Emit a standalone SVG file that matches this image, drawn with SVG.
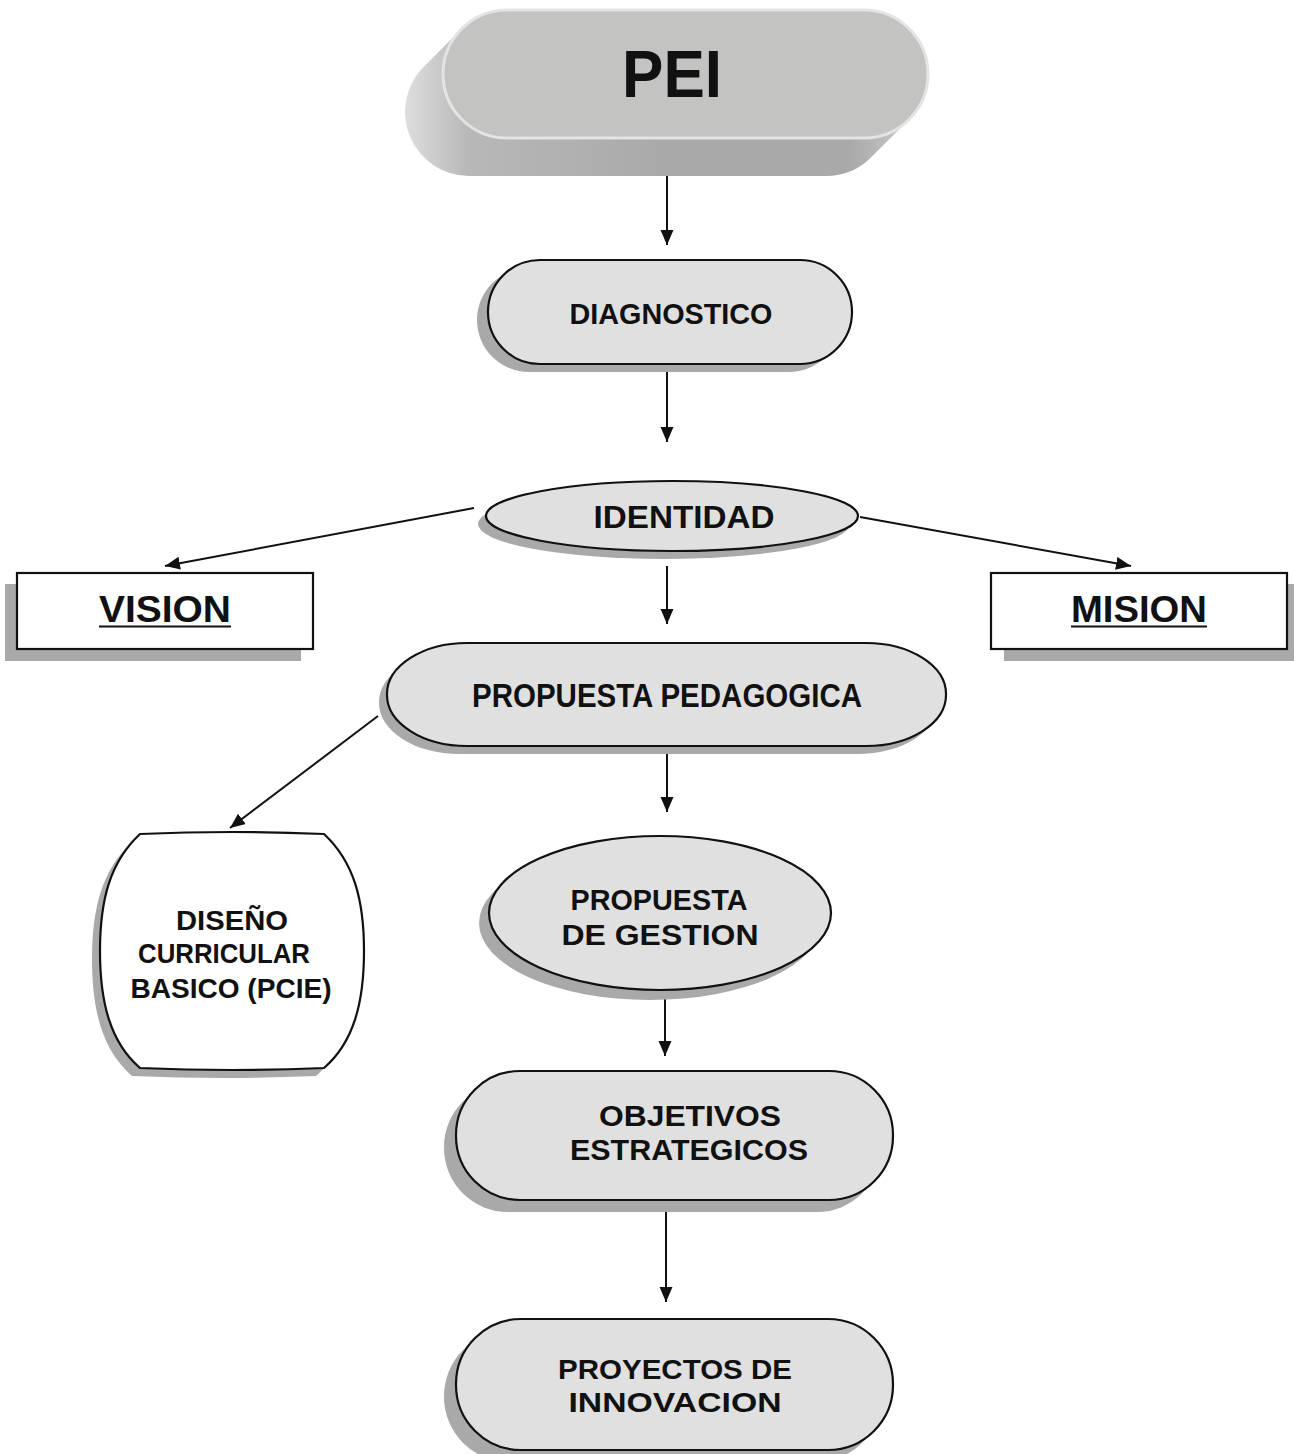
<svg xmlns="http://www.w3.org/2000/svg" width="1294" height="1454" viewBox="0 0 1294 1454">
<style>
.lbl{font-family:"Liberation Sans",Arial,sans-serif;font-weight:bold;fill:#111;text-anchor:middle}
.node{fill:#e0e0e0;stroke:#111;stroke-width:2.2}
.box{fill:#fff;stroke:#111;stroke-width:2.2}
.shd{fill:#a9a9a9}
.con{stroke:#111;stroke-width:2;fill:none;marker-end:url(#ah)}
</style>
<defs>
<marker id="ah" markerUnits="userSpaceOnUse" markerWidth="16" markerHeight="14" refX="15" refY="6.5" orient="auto">
<path d="M0,0 L15,6.5 L0,13 z" fill="#111"/>
</marker>
<linearGradient id="ext" x1="0" y1="0" x2="1" y2="0">
<stop offset="0" stop-color="#dedede"/>
<stop offset="0.12" stop-color="#b8b8b8"/>
<stop offset="0.5" stop-color="#a9a9a9"/>
<stop offset="0.85" stop-color="#a9a9a9"/>
<stop offset="1" stop-color="#d4d4d4"/>
</linearGradient>
</defs>
<rect width="1294" height="1454" fill="#fff"/>

<g id="connectors">
<line class="con" x1="667" y1="176" x2="667" y2="245"/>
<line class="con" x1="667" y1="364" x2="667" y2="442"/>
<line class="con" x1="474" y1="508" x2="165" y2="566"/>
<line class="con" x1="860" y1="517" x2="1131" y2="566"/>
<line class="con" x1="667" y1="566" x2="667" y2="624"/>
<line class="con" x1="378" y1="716" x2="230" y2="828"/>
<line class="con" x1="667" y1="746" x2="667" y2="812"/>
<line class="con" x1="665" y1="990" x2="665" y2="1056"/>
<line class="con" x1="666" y1="1212" x2="666" y2="1302"/>
</g>

<g id="pei">
<path d="M 507 10 L 864 10 A 64 64 0 0 1 909.25 119.25 L 871.25 157.25 A 64 64 0 0 1 826 176 L 469 176 A 64 64 0 0 1 423.75 66.75 L 461.75 28.75 A 64 64 0 0 1 507 10 Z" fill="url(#ext)"/>
<rect x="443" y="10" width="485" height="128" rx="64" fill="#c3c3c2" stroke="#e4e4e4" stroke-width="3"/>
<text class="lbl" x="672" y="97" font-size="66" textLength="100" lengthAdjust="spacingAndGlyphs">PEI</text>
</g>

<g id="diagnostico">
<rect class="shd" x="477" y="268" width="364" height="104" rx="52"/>
<rect class="node" x="488" y="260" width="364" height="104" rx="52"/>
<text class="lbl" x="671" y="324" font-size="30" textLength="203" lengthAdjust="spacingAndGlyphs">DIAGNOSTICO</text>
</g>

<g id="identidad">
<ellipse class="shd" cx="664" cy="524" rx="186" ry="35"/>
<ellipse class="node" cx="672" cy="516" rx="186" ry="35"/>
<text class="lbl" x="684" y="528" font-size="31" textLength="181" lengthAdjust="spacingAndGlyphs">IDENTIDAD</text>
</g>

<g id="vision">
<rect class="shd" x="5" y="584" width="296" height="77"/>
<rect class="box" x="17" y="573" width="296" height="76"/>
<text class="lbl" x="165" y="622" font-size="36" textLength="132" lengthAdjust="spacingAndGlyphs">VISION</text>
<line x1="99" y1="626.5" x2="231" y2="626.5" stroke="#111" stroke-width="2"/>
</g>

<g id="mision">
<rect class="shd" x="1004" y="584" width="290" height="77"/>
<rect class="box" x="991" y="573" width="296" height="76"/>
<text class="lbl" x="1139" y="622" font-size="36" textLength="136" lengthAdjust="spacingAndGlyphs">MISION</text>
<line x1="1071" y1="626.5" x2="1207" y2="626.5" stroke="#111" stroke-width="2"/>
</g>

<g id="propuesta-pedagogica">
<rect class="shd" x="379" y="651" width="559" height="103" rx="80" ry="51"/>
<rect class="node" x="387" y="643" width="559" height="103" rx="80" ry="51"/>
<text class="lbl" x="667" y="707" font-size="33" textLength="390" lengthAdjust="spacingAndGlyphs">PROPUESTA PEDAGOGICA</text>
</g>

<g id="diseno">
<path class="shd" transform="translate(-8,8)" d="M 140 834 Q 232 830 324 834 C 354 862 364 900 364 951 C 364 1002 354 1042 324 1068 Q 232 1072 140 1068 C 110 1042 100 1002 100 951 C 100 900 110 862 140 834 Z"/>
<path class="box" d="M 140 834 Q 232 830 324 834 C 354 862 364 900 364 951 C 364 1002 354 1042 324 1068 Q 232 1072 140 1068 C 110 1042 100 1002 100 951 C 100 900 110 862 140 834 Z"/>
<text class="lbl" x="232" y="930" font-size="28" textLength="112" lengthAdjust="spacingAndGlyphs">DISEÑO</text>
<text class="lbl" x="224" y="963" font-size="28" textLength="172" lengthAdjust="spacingAndGlyphs">CURRICULAR</text>
<text class="lbl" x="231" y="998" font-size="28" textLength="201" lengthAdjust="spacingAndGlyphs">BASICO (PCIE)</text>
</g>

<g id="propuesta-gestion">
<ellipse class="shd" cx="650" cy="923" rx="171" ry="77"/>
<ellipse class="node" cx="660" cy="913" rx="171" ry="77"/>
<text class="lbl" x="659" y="910" font-size="29" textLength="177" lengthAdjust="spacingAndGlyphs">PROPUESTA</text>
<text class="lbl" x="660" y="945" font-size="29" textLength="197" lengthAdjust="spacingAndGlyphs">DE GESTION</text>
</g>

<g id="objetivos">
<rect class="shd" x="444" y="1083" width="437" height="129" rx="64"/>
<rect class="node" x="456" y="1071" width="437" height="129" rx="64"/>
<text class="lbl" x="690" y="1126" font-size="29" textLength="182" lengthAdjust="spacingAndGlyphs">OBJETIVOS</text>
<text class="lbl" x="689" y="1160" font-size="29" textLength="238" lengthAdjust="spacingAndGlyphs">ESTRATEGICOS</text>
</g>

<g id="proyectos">
<rect class="shd" x="444" y="1331" width="437" height="131" rx="65"/>
<rect class="node" x="456" y="1319" width="437" height="131" rx="65"/>
<text class="lbl" x="675" y="1379" font-size="28" textLength="234" lengthAdjust="spacingAndGlyphs">PROYECTOS DE</text>
<text class="lbl" x="675" y="1412" font-size="28" textLength="213" lengthAdjust="spacingAndGlyphs">INNOVACION</text>
</g>
</svg>
